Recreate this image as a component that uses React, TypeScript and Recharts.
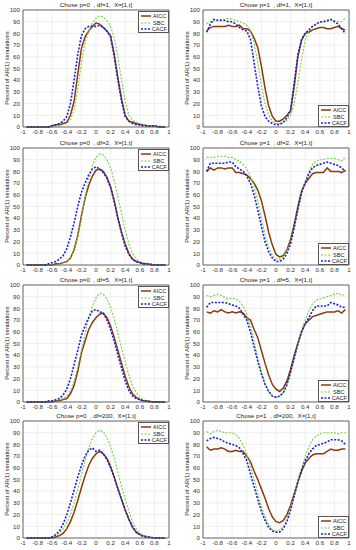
import React from "react";
import { LineChart, Line, XAxis, YAxis, CartesianGrid, ReferenceLine } from "recharts";

const XS = [-0.95, -0.9, -0.85, -0.8, -0.75, -0.7, -0.65, -0.6, -0.55, -0.5, -0.45, -0.4, -0.35, -0.3, -0.25, -0.2, -0.15, -0.1, -0.05, 0, 0.05, 0.1, 0.15, 0.2, 0.25, 0.3, 0.35, 0.4, 0.45, 0.5, 0.55, 0.6, 0.65, 0.7, 0.75, 0.8, 0.85, 0.9, 0.95];
const X_TICKS = [-1, -0.8, -0.6, -0.4, -0.2, 0, 0.2, 0.4, 0.6, 0.8, 1];
const Y_TICKS = [0, 10, 20, 30, 40, 50, 60, 70, 80, 90, 100];

// p=0, df=1
const aicc01 = [0, 0, 0, 0, 0, 0, 0, 1, 2, 2, 3, 4, 10, 22, 45, 67, 77, 82, 86, 89, 88, 85, 82, 78, 62, 42, 24, 10, 5, 4, 3, 2, 2, 1, 1, 1, 0, 0, 0];
const sbc01 = [0, 0, 0, 0, 0, 0, 0, 0, 1, 1, 2, 3, 6, 15, 32, 55, 72, 82, 89, 93, 95, 94, 91, 86, 76, 60, 40, 22, 10, 6, 4, 3, 2, 1.5, 1, 1, 0.5, 0, 0];
const cacf01 = [0, 0, 0, 0, 0, 0, 0, 1, 2, 3, 5, 9, 20, 40, 62, 78, 84, 86, 86, 86, 87, 85, 82, 77, 60, 40, 22, 9, 5, 3, 2, 2, 1, 1, 1, 1, 0.5, 0, 0];
// p=1, df=1
const aicc11 = [82, 85, 86, 86, 86, 86, 87, 86, 86, 87, 84, 84, 82, 76, 68, 52, 33, 18, 9, 5, 5, 7, 10, 14, 35, 60, 74, 80, 81, 83, 84, 85, 85, 84, 84, 85, 86, 84, 83];
const sbc11 = [88, 90, 91, 92, 92, 92, 93, 92, 91, 90, 89, 87, 83, 72, 55, 35, 20, 10, 5, 3, 3, 4, 6, 10, 20, 38, 58, 74, 82, 86, 88, 89, 90, 90, 91, 91, 90, 90, 93];
const cacf11 = [81, 88, 92, 91, 91, 91, 90, 90, 88, 85, 83, 82, 75, 55, 35, 18, 9, 5, 3, 2, 2, 4, 8, 14, 38, 62, 75, 80, 83, 86, 88, 90, 90, 91, 92, 90, 88, 84, 80];
// p=0, df=2
const aicc02 = [0, 0, 0, 0, 0, 0, 0, 0, 1, 1, 2, 3, 6, 13, 25, 42, 57, 68, 76, 81, 82, 80, 75, 67, 55, 40, 28, 18, 10, 5, 3, 2, 1, 1, 0.5, 0, 0, 0, 0];
const sbc02 = [0, 0, 0, 0, 0, 0, 0, 0, 0, 1, 2, 3, 6, 12, 24, 40, 58, 73, 85, 92, 95, 94, 90, 83, 72, 58, 44, 30, 18, 10, 5, 3, 2, 1, 1, 0.5, 0, 0, 0];
const cacf02 = [0, 0, 0, 0, 0, 0, 1, 2, 3, 5, 8, 14, 24, 36, 50, 62, 70, 77, 82, 84, 82, 79, 74, 66, 54, 40, 27, 16, 9, 5, 3, 2, 1, 1, 0.5, 0, 0, 0, 0];
// p=1, df=2
const aicc12 = [80, 83, 81, 83, 83, 82, 83, 83, 79, 79, 78, 77, 74, 70, 64, 55, 42, 28, 17, 9, 7, 8, 13, 22, 35, 50, 63, 70, 74, 78, 79, 79, 79, 83, 80, 80, 80, 79, 81];
const sbc12 = [92, 92, 92, 93, 93, 93, 92, 92, 90, 89, 86, 82, 76, 67, 55, 40, 26, 15, 8, 5, 5, 7, 12, 20, 32, 46, 60, 72, 80, 86, 89, 90, 90, 91, 91, 91, 90, 89, 92];
const cacf12 = [80, 87, 87, 87, 87, 87, 88, 88, 84, 82, 80, 76, 70, 60, 47, 33, 20, 11, 6, 3, 3, 5, 10, 18, 32, 48, 62, 70, 78, 83, 85, 86, 87, 88, 87, 86, 85, 83, 80];
// p=0, df=5
const aicc05 = [0, 0, 0, 0, 0, 0, 0, 0, 1, 1, 2, 3, 7, 14, 26, 42, 52, 62, 68, 72, 75, 76, 72, 65, 55, 44, 33, 22, 13, 7, 4, 2, 1, 1, 0.5, 0, 0, 0, 0];
const sbc05 = [0, 0, 0, 0, 0, 0, 0, 0, 1, 2, 3, 5, 10, 18, 30, 44, 58, 72, 82, 89, 93, 92, 88, 81, 71, 59, 46, 34, 23, 14, 8, 4, 2, 1, 0.5, 0, 0, 0, 0];
const cacf05 = [0, 0, 0, 0, 0, 0, 1, 1, 2, 3, 6, 11, 20, 32, 44, 57, 65, 72, 78, 79, 77, 76, 70, 62, 52, 40, 29, 18, 10, 5, 3, 2, 1, 0.5, 0, 0, 0, 0, 0];
// p=1, df=5
const aicc15 = [77, 76, 78, 77, 79, 77, 76, 77, 76, 77, 76, 72, 70, 62, 55, 44, 33, 23, 15, 11, 9, 12, 18, 28, 40, 50, 60, 67, 70, 73, 74, 75, 76, 77, 77, 77, 78, 76, 79];
const sbc15 = [91, 90, 91, 92, 91, 89, 88, 89, 88, 86, 82, 75, 65, 52, 38, 26, 16, 9, 5, 4, 5, 8, 14, 24, 36, 48, 60, 70, 78, 84, 87, 88, 89, 90, 91, 92, 93, 91, 92];
const cacf15 = [81, 85, 85, 85, 85, 85, 84, 83, 82, 80, 75, 70, 60, 47, 35, 24, 15, 9, 5, 4, 5, 8, 15, 26, 38, 50, 60, 67, 72, 78, 82, 82, 82, 82, 85, 84, 83, 81, 81];
// p=0, df=200
const aicc0200 = [0, 0, 0, 0, 0, 0, 0, 0, 1, 2, 4, 8, 14, 22, 32, 43, 53, 62, 68, 72, 74, 72, 68, 61, 52, 42, 33, 24, 16, 9, 5, 3, 2, 1, 0.5, 0, 0, 0, 0];
const sbc0200 = [0, 0, 0, 0, 0, 0, 0, 1, 2, 4, 8, 13, 20, 30, 41, 54, 66, 77, 85, 90, 92, 91, 86, 78, 68, 56, 44, 33, 23, 14, 8, 4, 2, 1, 0.5, 0, 0, 0, 0];
const cacf0200 = [0, 0, 0, 0, 0, 0, 0, 1, 3, 6, 12, 20, 30, 41, 52, 62, 70, 75, 77, 74, 75, 72, 67, 60, 52, 42, 33, 24, 16, 10, 5, 3, 1, 1, 0.5, 0, 0, 0, 0];
// p=1, df=200
const aicc1200 = [78, 75, 76, 76, 77, 76, 74, 74, 75, 74, 74, 70, 65, 57, 50, 42, 34, 25, 18, 14, 13, 15, 20, 28, 38, 48, 57, 64, 68, 71, 72, 72, 72, 74, 76, 75, 75, 76, 76];
const sbc1200 = [91, 89, 91, 92, 91, 90, 90, 90, 88, 85, 79, 72, 62, 50, 38, 27, 18, 11, 7, 6, 7, 10, 16, 26, 37, 49, 60, 70, 78, 84, 87, 89, 90, 90, 90, 90, 89, 90, 90];
const cacf1200 = [83, 85, 86, 85, 84, 82, 81, 80, 79, 77, 72, 66, 55, 44, 33, 23, 15, 9, 6, 5, 5, 8, 14, 24, 36, 48, 58, 66, 72, 76, 79, 80, 81, 82, 84, 84, 84, 83, 80];

const panels = [
  { p: 0, df: 1, a: aicc01, s: sbc01, c: cacf01 },
  { p: 1, df: 1, a: aicc11, s: sbc11, c: cacf11 },
  { p: 0, df: 2, a: aicc02, s: sbc02, c: cacf02 },
  { p: 1, df: 2, a: aicc12, s: sbc12, c: cacf12 },
  { p: 0, df: 5, a: aicc05, s: sbc05, c: cacf05 },
  { p: 1, df: 5, a: aicc15, s: sbc15, c: cacf15 },
  { p: 0, df: 200, a: aicc0200, s: sbc0200, c: cacf0200 },
  { p: 1, df: 200, a: aicc1200, s: sbc1200, c: cacf1200 },
];

const ROW_TOPS = [0, 138, 275, 411];
const FONT = "'Liberation Sans', Arial, sans-serif";
const C_AICC = "#8a3a10";
const C_SBC = "#6fd43a";
const C_CACF = "#2020cc";

function Legend({ bottom }: { bottom: boolean }) {
  const items = [
    { name: "AICC", color: C_AICC, dash: undefined, w: 1.5 },
    { name: "SBC", color: C_SBC, dash: "2 1.5", w: 1.1 },
    { name: "CACF", color: C_CACF, dash: "2 1.5", w: 1.6 },
  ];
  return (
    <div
      style={{
        position: "absolute",
        left: 138,
        top: bottom ? 105 : 11,
        width: 31,
        height: 22,
        background: "#fff",
        border: "0.8px solid #555",
        boxSizing: "border-box",
        padding: "1px 1px",
      }}
    >
      {items.map((it) => (
        <div key={it.name} style={{ display: "flex", alignItems: "center", height: 6.4 }}>
          <svg width={11} height={6} style={{ marginRight: 2 }}>
            <line x1={1} y1={3} x2={11} y2={3} stroke={it.color} strokeWidth={it.w} strokeDasharray={it.dash} />
          </svg>
          <span style={{ fontSize: 5.6, color: "#222", lineHeight: "6px" }}>{it.name}</span>
        </div>
      ))}
    </div>
  );
}

function Panel({ idx }: { idx: number }) {
  const pn = panels[idx];
  const col = idx % 2;
  const row = Math.floor(idx / 2);
  const left = col === 0 ? 0 : 180;
  const top = ROW_TOPS[row];
  const rows = XS.map((x, i) => ({ x, aicc: pn.a[i], sbc: pn.s[i], cacf: pn.c[i] }));
  const tick = { fontSize: 6.2, fill: "#333", fontFamily: FONT };
  return (
    <div style={{ position: "absolute", left, top, width: 178, height: 137 }}>
      <div
        style={{
          position: "absolute",
          left: 23,
          width: 146,
          top: 1,
          textAlign: "center",
          fontSize: 6.2,
          lineHeight: "8px",
          color: "#222",
          whiteSpace: "pre",
        }}
      >
        {`Chose p=${pn.p}  , df=${pn.df},  X=[1,t]`}
      </div>
      <div
        style={{
          position: "absolute",
          left: 7,
          top: 68,
          transform: "translate(-50%, -50%) rotate(-90deg)",
          fontSize: 5.8,
          color: "#222",
          whiteSpace: "nowrap",
        }}
      >
        Percent of AR(1) simulations
      </div>
      <LineChart width={178} height={137} data={rows} margin={{ top: 10, right: 9, left: 0, bottom: 0 }}>
        <CartesianGrid stroke="#e4e4e4" strokeWidth={0.6} />
        <XAxis
          dataKey="x"
          type="number"
          domain={[-1, 1]}
          ticks={X_TICKS}
          tick={tick}
          tickLine={false}
          tickSize={3}
          tickMargin={0}
          height={10}
          axisLine={{ stroke: "#444", strokeWidth: 0.8 }}
          interval={0}
          allowDataOverflow
        />
        <YAxis
          type="number"
          domain={[0, 100]}
          ticks={Y_TICKS}
          tick={tick}
          tickLine={false}
          tickSize={0}
          tickMargin={3}
          width={23}
          axisLine={{ stroke: "#444", strokeWidth: 0.8 }}
          interval={0}
        />
        <ReferenceLine y={100} stroke="#444" strokeWidth={0.8} />
        <ReferenceLine x={1} stroke="#444" strokeWidth={0.8} />
        <Line dataKey="aicc" stroke={C_AICC} strokeWidth={1.5} dot={false} type="linear" isAnimationActive={false} />
        <Line dataKey="sbc" stroke={C_SBC} strokeWidth={1.1} strokeDasharray="2 1.5" dot={false} type="linear" isAnimationActive={false} />
        <Line dataKey="cacf" stroke={C_CACF} strokeWidth={1.6} strokeDasharray="2 1.5" dot={false} type="linear" isAnimationActive={false} />
      </LineChart>
      <Legend bottom={col === 1} />
    </div>
  );
}

export default function App() {
  return (
    <div
      style={{
        position: "absolute",
        left: 0,
        top: 0,
        width: 356,
        height: 550,
        background: "#fff",
        overflow: "hidden",
        fontFamily: FONT,
      }}
    >
      {panels.map((_, i) => (
        <Panel key={i} idx={i} />
      ))}
    </div>
  );
}
